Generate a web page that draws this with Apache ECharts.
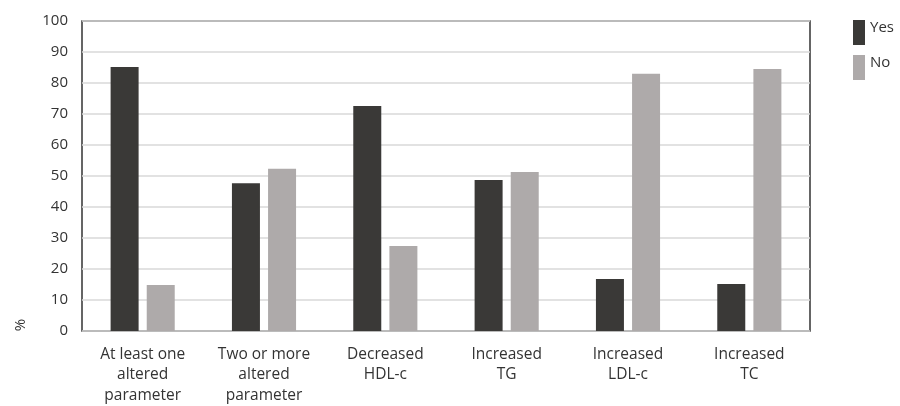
<!DOCTYPE html>
<html>
<head>
<meta charset="utf-8">
<script src="https://cdn.jsdelivr.net/npm/echarts@6/dist/echarts.min.js"></script>
<style>html,body{margin:0;padding:0;background:#fff;}#c{width:900px;height:406px;}</style>
</head>
<body>
<div id="c"></div>
<script>
const categories = ["At least one\naltered\nparameter", "Two or more\naltered\nparameter", "Decreased\nHDL-c", "Increased\nTG", "Increased\nLDL-c", "Increased\nTC"];
const yesValues = [85.2, 47.7, 72.6, 48.7, 16.8, 15.2];
const noValues = [14.8, 52.3, 27.4, 51.3, 83.0, 84.5];
const seriesNames = ["Yes", "No"];

const chart = echarts.init(document.getElementById('c'), null, {renderer: 'canvas'});
const font = "'Open Sans', 'Noto Sans', sans-serif";
chart.setOption({
  animation: false,
  textStyle: {fontFamily: font},
  grid: {left: 82, right: 90, top: 21, bottom: 75, show: true, borderColor: '#333', borderWidth: 1.5, backgroundColor: 'transparent', containLabel: false, outerBoundsMode: 'none'},
  legend: {
    orient: 'vertical', left: 848, top: 15, itemWidth: 12, itemHeight: 25, itemGap: 10,
    icon: 'rect',
    formatter: '{a|{name}}',
    textStyle: {fontFamily: font, fontSize: 15, color: '#333', rich: {a: {fontFamily: font, fontSize: 15, color: '#333', padding: [0, 0, 10, 0]}}},
    data: seriesNames
  },
  xAxis: {
    type: 'category', data: categories,
    axisLine: {show: false}, axisTick: {show: false},
    axisLabel: {fontFamily: font, fontSize: 15.5, color: '#333', lineHeight: 20.5, margin: 13, interval: 0}
  },
  yAxis: {
    type: 'value', min: 0, max: 100, interval: 10,
    axisLine: {show: false}, axisTick: {show: false},
    splitLine: {lineStyle: {color: '#d9d9d9', width: 1.5}},
    axisLabel: {fontFamily: font, fontSize: 15, color: '#333', margin: 14}
  },
  graphic: [{
    type: 'text', x: 21, y: 325, rotation: Math.PI / 2,
    style: {text: '%', fontFamily: font, fontSize: 15, fill: '#333', textAlign: 'center', textVerticalAlign: 'middle'}
  }],
  series: [
    {name: seriesNames[0], type: 'bar', data: yesValues, barWidth: 28, barGap: '29%', itemStyle: {color: '#3a3937'}},
    {name: seriesNames[1], type: 'bar', data: noValues, barWidth: 28, itemStyle: {color: '#aeaaaa'}}
  ]
});
</script>
</body>
</html>
